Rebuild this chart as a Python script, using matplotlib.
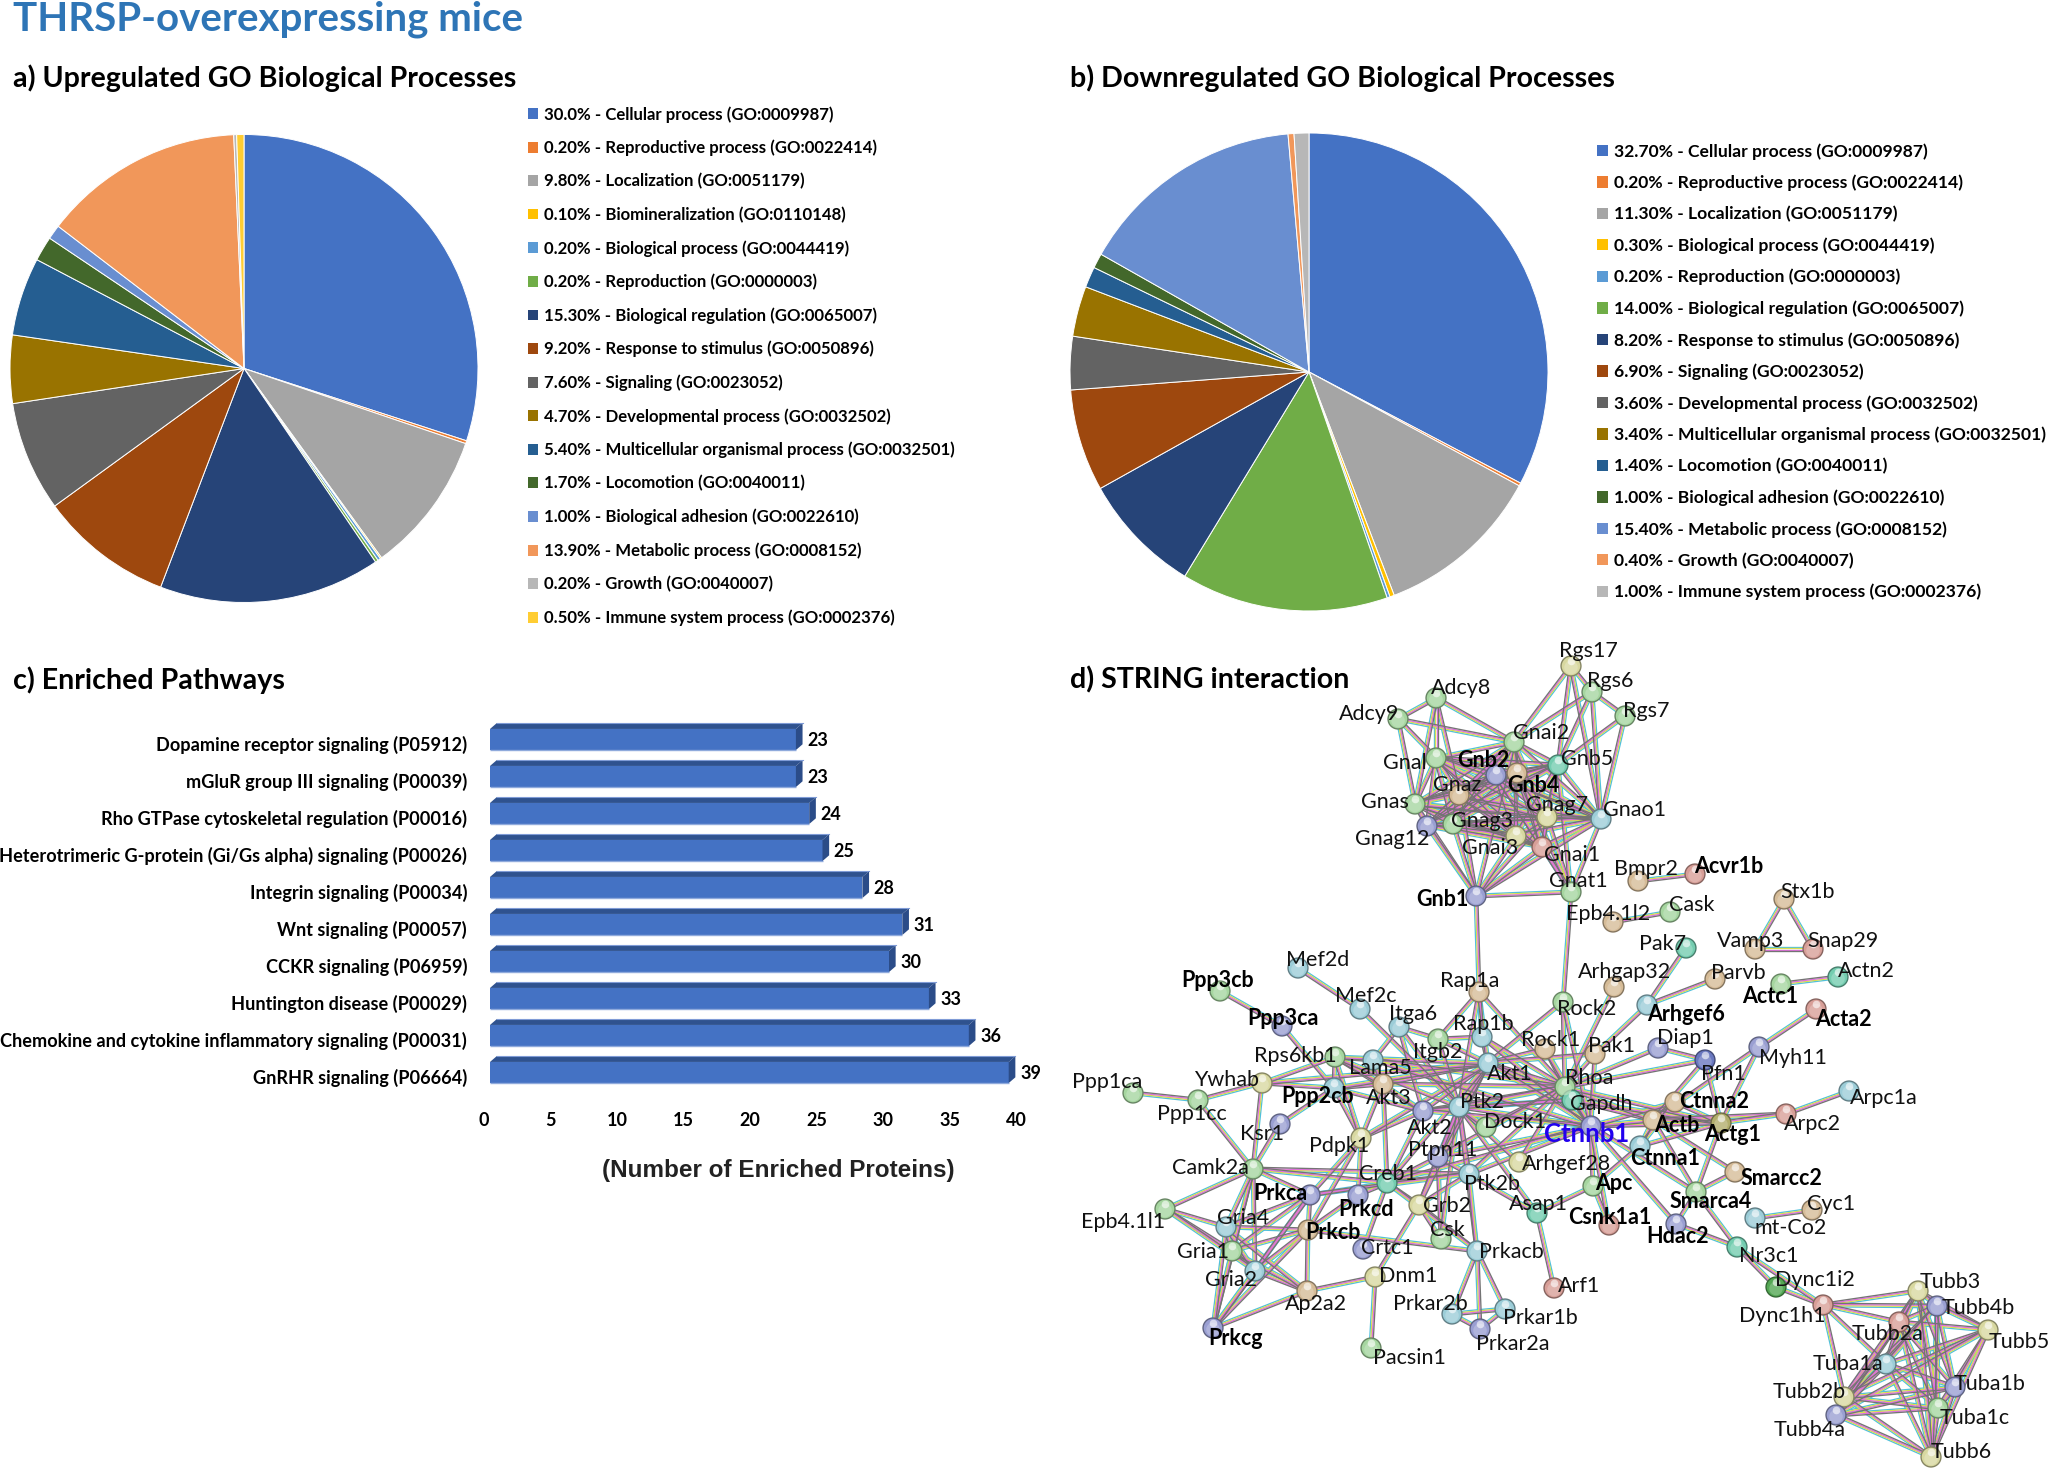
import itertools
import numpy as np
import matplotlib
matplotlib.use("Agg")
import matplotlib.pyplot as plt
from matplotlib.colors import to_rgb
from matplotlib.patches import Patch, Polygon
from matplotlib.collections import LineCollection
from matplotlib.transforms import ScaledTranslation

W, H = 2048, 1469
plt.rcParams['font.family'] = ['Lato', 'DejaVu Sans']

# a) upregulated GO terms
up_labels = ["30.0% - Cellular process (GO:0009987)", "0.20% - Reproductive process (GO:0022414)",
             "9.80% - Localization (GO:0051179)", "0.10% - Biomineralization (GO:0110148)",
             "0.20% - Biological process (GO:0044419)", "0.20% - Reproduction (GO:0000003)",
             "15.30% - Biological regulation (GO:0065007)", "9.20% - Response to stimulus (GO:0050896)",
             "7.60% - Signaling (GO:0023052)", "4.70% - Developmental process (GO:0032502)",
             "5.40% - Multicellular organismal process (GO:0032501)", "1.70% - Locomotion (GO:0040011)",
             "1.00% - Biological adhesion (GO:0022610)", "13.90% - Metabolic process (GO:0008152)",
             "0.20% - Growth (GO:0040007)", "0.50% - Immune system process (GO:0002376)"]
up_values = [30.0, 0.2, 9.8, 0.1, 0.2, 0.2, 15.3, 9.2, 7.6, 4.7, 5.4, 1.7, 1.0, 13.9, 0.2, 0.5]

# b) downregulated GO terms
down_labels = ["32.70% - Cellular process (GO:0009987)", "0.20% - Reproductive process (GO:0022414)",
               "11.30% - Localization (GO:0051179)", "0.30% - Biological process (GO:0044419)",
               "0.20% - Reproduction (GO:0000003)", "14.00% - Biological regulation (GO:0065007)",
               "8.20% - Response to stimulus (GO:0050896)", "6.90% - Signaling (GO:0023052)",
               "3.60% - Developmental process (GO:0032502)", "3.40% - Multicellular organismal process (GO:0032501)",
               "1.40% - Locomotion (GO:0040011)", "1.00% - Biological adhesion (GO:0022610)",
               "15.40% - Metabolic process (GO:0008152)", "0.40% - Growth (GO:0040007)",
               "1.00% - Immune system process (GO:0002376)"]
down_values = [32.7, 0.2, 11.3, 0.3, 0.2, 14.0, 8.2, 6.9, 3.6, 3.4, 1.4, 1.0, 15.4, 0.4, 1.0]

office_colors = ["#4472C4", "#ED7D31", "#A5A5A5", "#FFC000", "#5B9BD5", "#70AD47", "#264478", "#9E480E",
                 "#636363", "#997300", "#255E91", "#43682B", "#698ED0", "#F1975A", "#B7B7B7", "#FFCD33"]

# c) pathways
pathways = ["Dopamine receptor signaling (P05912)", "mGluR group III signaling (P00039)",
            "Rho GTPase cytoskeletal regulation (P00016)", "Heterotrimeric G-protein (Gi/Gs alpha) signaling (P00026)",
            "Integrin signaling (P00034)", "Wnt signaling (P00057)", "CCKR signaling (P06959)",
            "Huntington disease (P00029)", "Chemokine and cytokine inflammatory signaling (P00031)",
            "GnRHR signaling (P06664)"]
protein_counts = [23, 23, 24, 25, 28, 31, 30, 33, 36, 39]

# d) STRING network: gene -> node x, node y, label x, label y (in pixels)
gene_layout = {
    "Adcy8": (1436, 698, 1461, 686), "Adcy9": (1398, 719, 1369, 712), "Gnal": (1436, 758, 1405, 761),
    "Gnai2": (1514, 742, 1541, 731), "Gnb2": (1496, 775, 1483, 759), "Gnaz": (1459, 795, 1457, 783),
    "Gnas": (1415, 804, 1385, 800), "Gnag12": (1427, 826, 1392, 837), "Gnag3": (1453, 824, 1482, 819),
    "Gnai3": (1516, 836, 1490, 846), "Gnb1": (1476, 896, 1442, 898), "Gnb4": (1517, 773, 1533, 784),
    "Gnb5": (1558, 765, 1587, 757), "Gnag7": (1547, 817, 1557, 803), "Gnai1": (1542, 847, 1572, 853),
    "Gnao1": (1601, 819, 1635, 808), "Gnat1": (1571, 892, 1578, 879), "Rgs17": (1571, 666, 1588, 649),
    "Rgs6": (1592, 692, 1610, 679), "Rgs7": (1625, 716, 1646, 709), "Bmpr2": (1638, 881, 1646, 867),
    "Acvr1b": (1695, 874, 1729, 865), "Epb4.1l2": (1613, 922, 1608, 912), "Cask": (1670, 912, 1692, 903),
    "Stx1b": (1784, 899, 1808, 890), "Vamp3": (1755, 949, 1751, 939), "Snap29": (1813, 949, 1843, 939),
    "Pak7": (1686, 948, 1663, 942), "Parvb": (1715, 979, 1738, 971), "Arhgap32": (1614, 987, 1625, 970),
    "Actc1": (1781, 984, 1770, 995), "Actn2": (1838, 977, 1866, 969), "Arhgef6": (1647, 1005, 1686, 1013),
    "Rock2": (1563, 1002, 1587, 1007), "Acta2": (1816, 1009, 1843, 1018), "Rock1": (1545, 1049, 1551, 1039),
    "Pak1": (1595, 1054, 1611, 1045), "Diap1": (1658, 1048, 1685, 1037), "Pfn1": (1705, 1060, 1723, 1072),
    "Myh11": (1759, 1047, 1793, 1056), "Rhoa": (1565, 1087, 1589, 1076), "Gapdh": (1572, 1100, 1601, 1102),
    "Ctnna2": (1675, 1102, 1714, 1100), "Arpc1a": (1849, 1091, 1884, 1097), "Arpc2": (1786, 1114, 1812, 1123),
    "Actb": (1653, 1120, 1677, 1124), "Actg1": (1721, 1123, 1733, 1133), "Ctnnb1": (1591, 1126, 1587, 1133),
    "Ctnna1": (1640, 1146, 1665, 1157), "Arhgef28": (1519, 1162, 1567, 1162), "Apc": (1593, 1186, 1614, 1182),
    "Smarcc2": (1735, 1172, 1781, 1177), "Smarca4": (1696, 1192, 1711, 1200), "Cyc1": (1812, 1210, 1831, 1202),
    "mt-Co2": (1755, 1218, 1791, 1227), "Csnk1a1": (1609, 1225, 1610, 1216), "Asap1": (1537, 1213, 1538, 1203),
    "Hdac2": (1676, 1224, 1678, 1235), "Nr3c1": (1737, 1247, 1769, 1255), "Dync1i2": (1776, 1287, 1815, 1279),
    "Dync1h1": (1823, 1305, 1782, 1314), "Tubb3": (1918, 1291, 1950, 1281), "Tubb4b": (1937, 1306, 1978, 1307),
    "Tubb2a": (1899, 1322, 1888, 1332), "Tubb5": (1988, 1330, 2019, 1341), "Tuba1a": (1886, 1364, 1848, 1362),
    "Tuba1b": (1955, 1387, 1990, 1382), "Tubb2b": (1844, 1397, 1809, 1391), "Tuba1c": (1938, 1408, 1975, 1416),
    "Tubb4a": (1836, 1415, 1810, 1429), "Tubb6": (1931, 1457, 1961, 1451), "Arf1": (1554, 1288, 1579, 1284),
    "Prkar1b": (1505, 1309, 1540, 1317), "Prkca": (1310, 1195, 1280, 1192), "Prkcd": (1358, 1195, 1366, 1208),
    "Epb4.1l1": (1165, 1209, 1123, 1220), "Gria4": (1226, 1227, 1243, 1216), "Prkcb": (1308, 1230, 1333, 1231),
    "Grb2": (1419, 1205, 1447, 1204), "Csk": (1441, 1239, 1447, 1229), "Crtc1": (1363, 1249, 1387, 1247),
    "Gria1": (1232, 1251, 1203, 1251), "Prkacb": (1477, 1251, 1511, 1251), "Gria2": (1255, 1271, 1231, 1279),
    "Dnm1": (1375, 1277, 1408, 1275), "Ap2a2": (1307, 1291, 1316, 1303), "Prkar2b": (1452, 1314, 1430, 1302),
    "Prkar2a": (1480, 1329, 1513, 1343), "Prkcg": (1213, 1328, 1235, 1337), "Pacsin1": (1371, 1348, 1409, 1356),
    "Mef2d": (1298, 968, 1318, 958), "Ppp3cb": (1220, 991, 1218, 979), "Mef2c": (1360, 1009, 1366, 994),
    "Rap1a": (1479, 992, 1470, 979), "Ppp3ca": (1282, 1026, 1283, 1017), "Itga6": (1399, 1027, 1413, 1013),
    "Rap1b": (1482, 1037, 1483, 1023), "Itgb2": (1438, 1039, 1438, 1051), "Rps6kb1": (1335, 1057, 1295, 1054),
    "Lama5": (1373, 1060, 1380, 1066), "Akt1": (1488, 1063, 1510, 1072), "Ywhab": (1262, 1083, 1227, 1079),
    "Akt3": (1383, 1084, 1389, 1097), "Ppp2cb": (1334, 1088, 1318, 1095), "Ppp1ca": (1133, 1093, 1107, 1081),
    "Ppp1cc": (1198, 1100, 1192, 1112), "Ptk2": (1459, 1107, 1482, 1100), "Akt2": (1423, 1111, 1430, 1126),
    "Dock1": (1486, 1127, 1515, 1120), "Ksr1": (1280, 1124, 1262, 1133), "Pdpk1": (1361, 1138, 1339, 1145),
    "Ptpn11": (1438, 1157, 1443, 1148), "Camk2a": (1253, 1169, 1210, 1167), "Ptk2b": (1469, 1174, 1492, 1183),
    "Creb1": (1387, 1183, 1388, 1173),
}

bold_genes = ("Gnb2 Gnb4 Gnb1 Acvr1b Arhgef6 Actc1 Acta2 Ctnna2 Actb Actg1 Ctnnb1 Ctnna1 Apc Smarcc2 Smarca4 "
              "Csnk1a1 Hdac2 Prkca Prkcd Prkcb Prkcg Ppp3cb Ppp3ca Ppp2cb").split()

gene_colors = {
    "#A6D6A0": "Adcy8 Adcy9 Gnal Gnai2 Gnas Gnag3 Itgb2 Rps6kb1 Gnat1 Rgs6 Rgs7 Ppp1ca Cask Gria1 Camk2a Tuba1c Actc1 Rhoa Smarca4 Epb4.1l1 Pacsin1 Csk Dock1 Rock2 Ppp1cc Ppp3cb",
    "#9A9FD2": "Gnb2 Gnag12 Gnb1 Ppp3ca Akt2 Prkca Prkcd Prkcg Ksr1 Crtc1 Hdac2 Diap1 Ptpn11 Tubb4a Tubb4b Myh11 Ctnnb1 Tuba1b Prkar2a",
    "#D6BC98": "Gnaz Gnb4 Bmpr2 Epb4.1l2 Stx1b Vamp3 Parvb Arhgap32 Rock1 Pak1 Actb Ctnna2 Cyc1 Akt3 Prkcb Ap2a2 Smarcc2 Rap1a",
    "#D8D8A0": "Gnai3 Gnag7 Ywhab Pdpk1 Grb2 Arhgef28 Dnm1 Tubb5 Tubb3 Tubb2b Tubb6 Rgs17",
    "#D89F98": "Gnai1 Acvr1b Snap29 Acta2 Arpc2 Csnk1a1 Arf1 Tubb2a Dync1h1",
    "#9CCDD8": "Mef2c Rap1b Itga6 Akt1 Arhgef6 Ptk2 Ptk2b Ctnna1 Arpc1a Gria4 Prkar1b Tuba1a Gria2 Prkacb Mef2d Lama5 mt-Co2 Prkar2b Ppp2cb Gnao1",
    "#74CDB0": "Gnb5 Pak7 Actn2 Gapdh Creb1 Asap1 Nr3c1",
    "#54A854": "Dync1i2",
    "#6A78C0": "Pfn1",
    "#B2AE6C": "Actg1",
}

# edges as seen in the picture
g_protein_core = "Gnal Gnb2 Gnaz Gnas Gnag12 Gnag3 Gnai3 Gnb4 Gnb5 Gnag7 Gnai1 Gnao1 Gnai2".split()
tubulin_core = "Tubb3 Tubb4b Tubb2a Tubb5 Tuba1a Tuba1b Tubb2b Tuba1c Tubb4a Tubb6".split()
gria_prk_core = "Prkca Prkcb Prkcg Gria1 Gria2 Gria4".split()
prkar_core = "Prkacb Prkar2b Prkar2a Prkar1b".split()
gene_links = {
    "Adcy8": "Adcy9 Gnal Gnas Gnai2 Gnaz",
    "Adcy9": "Gnal Gnas Gnai2",
    "Gnb1": "Gnag12 Gnag3 Gnai3 Gnai1 Gnag7 Gnat1 Gnas Gnaz Gnai2 Gnao1 Rap1a",
    "Gnat1": "Gnai1 Gnao1 Gnag7 Gnb4 Gnb2 Gnb5 Rock2",
    "Rgs17": "Rgs6 Gnai2 Gnb5 Gnao1",
    "Rgs6": "Rgs7 Gnb5 Gnai2 Gnao1",
    "Rgs7": "Gnb5 Gnao1",
    "Epb4.1l2": "Cask",
    "Stx1b": "Vamp3 Snap29",
    "Vamp3": "Snap29",
    "Bmpr2": "Acvr1b",
    "Arhgef6": "Pak7 Parvb Pak1",
    "Actc1": "Actn2",
    "Acta2": "Myh11",
    "Arhgap32": "Rhoa",
    "Diap1": "Pfn1 Rhoa",
    "Pfn1": "Rhoa Actb Actg1",
    "Myh11": "Actg1 Actb",
    "Arpc1a": "Arpc2",
    "Arpc2": "Actg1 Actb",
    "Ctnna2": "Ctnnb1 Actb Actg1 Ctnna1",
    "Actb": "Actg1 Ctnna1 Ctnnb1 Gapdh Rhoa Smarca4 Smarcc2",
    "Actg1": "Ctnnb1 Ctnna1 Gapdh Rhoa Smarca4",
    "Smarcc2": "Smarca4",
    "Smarca4": "Hdac2 Nr3c1 Ctnnb1",
    "Hdac2": "Nr3c1 Ctnnb1",
    "Nr3c1": "Dync1h1 Dync1i2",
    "Dync1i2": "Dync1h1",
    "Dync1h1": "Tubb3 Tubb4b Tubb2a Tuba1a Tubb2b",
    "Cyc1": "mt-Co2",
    "Apc": "Ctnnb1 Csnk1a1 Asap1 Ctnna1",
    "Csnk1a1": "Ctnnb1",
    "Asap1": "Arf1 Ptk2b Ptk2",
    "Arhgef28": "Rhoa Ptk2",
    "Rhoa": "Rock1 Rock2 Pak1 Akt1 Ptk2 Akt2 Akt3 Gapdh Dock1 Ptk2b Rap1b Ptpn11 Ctnnb1 Lama5",
    "Akt1": "Rps6kb1 Akt3 Akt2 Pdpk1 Gapdh Ctnnb1 Ptk2 Rap1b Ywhab Ppp2cb Creb1 Rock1 Rock2 Pak1 Grb2 Ptpn11",
    "Ctnnb1": "Gapdh Akt2 Ptk2 Rap1b Ptpn11 Creb1 Ptk2b Lama5 Rock1 Pak1 Rock2",
    "Mef2d": "Mef2c",
    "Mef2c": "Ptk2",
    "Ppp3cb": "Ppp3ca",
    "Ppp3ca": "Ppp2cb",
    "Ppp1ca": "Ppp1cc",
    "Ppp1cc": "Ywhab Camk2a",
    "Ywhab": "Rps6kb1 Ppp2cb Camk2a",
    "Ksr1": "Camk2a Ppp2cb",
    "Camk2a": "Creb1 Epb4.1l1 Gria1 Gria2 Gria4 Prkca Prkcg Ptk2b",
    "Rps6kb1": "Akt3 Akt2 Ppp2cb Pdpk1 Ptk2 Lama5",
    "Lama5": "Itga6 Akt3",
    "Itga6": "Itgb2 Ptk2 Akt2",
    "Itgb2": "Rap1a Rap1b Ptk2 Akt1",
    "Rap1a": "Rap1b Ptk2 Akt1 Rhoa",
    "Akt3": "Akt2 Pdpk1 Ppp2cb Creb1",
    "Akt2": "Pdpk1 Ptk2 Creb1 Gapdh",
    "Ppp2cb": "Pdpk1 Akt2",
    "Pdpk1": "Prkca Prkcd Prkcb",
    "Ptk2": "Ptk2b Ptpn11 Grb2 Csk Dock1 Prkacb Gapdh",
    "Ptpn11": "Grb2 Csk Ptk2b Creb1",
    "Ptk2b": "Grb2 Prkacb Prkca Creb1",
    "Grb2": "Csk Prkacb Dnm1 Creb1",
    "Creb1": "Prkacb Prkca Prkcd Crtc1",
    "Prkcb": "Ap2a2 Prkcd Prkacb",
    "Prkcg": "Ap2a2",
    "Epb4.1l1": "Gria1 Gria4 Gria2",
    "Ap2a2": "Gria1 Gria2 Gria4 Dnm1",
    "Dnm1": "Pacsin1",
}

fig = plt.figure(figsize=(W / 100, H / 100), dpi=100, facecolor="white")


def px_axes(x0, y0, x1, y1):
    return fig.add_axes([x0 / W, 1 - y1 / H, (x1 - x0) / W, (y1 - y0) / H])


def go_pie(values, cx, cy, r, labels, lx, ly, fontsize, spacing):
    ax = px_axes(cx - r, cy - r, cx + r, cy + r)
    ax.pie(values, colors=office_colors[:len(values)], startangle=90, counterclock=False,
           radius=1, wedgeprops={"edgecolor": "white", "linewidth": 0.7})
    ax.set_xlim(-1, 1)
    ax.set_ylim(-1, 1)
    handles = [Patch(facecolor=c) for c in office_colors[:len(values)]]
    fig.legend(handles, labels, loc="upper left", bbox_to_anchor=(lx / W, 1 - ly / H), frameon=False,
               prop={"size": fontsize, "weight": "bold"}, borderpad=0, borderaxespad=0,
               labelspacing=spacing, handlelength=0.62, handleheight=0.62, handletextpad=0.35)


go_pie(up_values, 244, 368.5, 234, up_labels, 528, 106, 12.05, 1.02)
go_pie(down_values, 1309, 372, 239, down_labels, 1597, 143, 12.6, 0.856)

# bar chart, hand made 3D look
ax = px_axes(490, 700, 1022, 1100)
ax.set_xlim(0, 40)
ax.set_ylim((1100 - 739.5) / 37, (700 - 739.5) / 37)
ypos = np.arange(len(pathways))
bar_h = 0.57
dx, dy = 0.5, 0.155
ax.barh(ypos, protein_counts, height=bar_h, color="#4472C4", edgecolor="none")
ax.hlines(ypos + bar_h / 2, 0, protein_counts, color="#8FAADC", lw=1.0)
for y, v in zip(ypos, protein_counts):
    top = y - bar_h / 2
    bottom = y + bar_h / 2
    ax.add_patch(Polygon([(0, top), (dx, top - dy), (v + dx, top - dy), (v, top)], fc="#2F528F", ec="none"))
    ax.plot([dx, v + dx], [top - dy, top - dy], color="#7F9BD6", lw=0.8)
    ax.add_patch(Polygon([(v, top), (v + dx, top - dy), (v + dx, bottom - dy), (v, bottom)], fc="#2B4C88", ec="none"))
    ax.text(v + dx + 0.35, y + 0.03, str(v), ha="left", va="center", fontsize=13, fontweight="bold")
ax.set_yticks(ypos, pathways, fontsize=13.05, fontweight="bold")
ax.set_xticks(np.arange(0, 41, 5))
ax.tick_params(length=0)
ax.tick_params(axis="y", pad=16.5)
ax.tick_params(axis="x", labelsize=13, pad=8.5)
for lab in ax.get_xticklabels():
    lab.set_fontweight("bold")
    lab.set_transform(lab.get_transform() + ScaledTranslation(-6 / 100, 0, fig.dpi_scale_trans))
for lab in ax.get_yticklabels():
    lab.set_transform(lab.get_transform() + ScaledTranslation(0, -4 / 100, fig.dpi_scale_trans))
for s in ax.spines.values():
    s.set_visible(False)
ax.patch.set_alpha(0)

# overlay in pixel coordinates: headings and the network
canvas = fig.add_axes([0, 0, 1, 1])
canvas.set_xlim(0, W)
canvas.set_ylim(H, 0)
canvas.axis("off")
canvas.patch.set_alpha(0)

canvas.text(13, 19, "THRSP-overexpressing mice", fontsize=29, fontweight="bold", color="#2E75B6", va="center")
for x, y, t in [(13, 78, "a) Upregulated GO Biological Processes"), (1070, 78, "b) Downregulated GO Biological Processes"),
                (13, 680, "c) Enriched Pathways"), (1070, 680, "d) STRING interaction")]:
    canvas.text(x, y, t, fontsize=20.6, fontweight="bold", va="center")
canvas.text(778, 1170, "(Number of Enriched Proteins)", fontsize=17.5, fontweight="bold", ha="center", va="center",
            family="Liberation Sans", color="#222222")

edges = set()
for group in (g_protein_core, tubulin_core, gria_prk_core, prkar_core):
    edges.update(frozenset(p) for p in itertools.combinations(group, 2))
for a, others in gene_links.items():
    edges.update(frozenset((a, b)) for b in others.split())

# cyan and yellow first, pink and grey on top, as they read in the picture
strand_colors = ["#50C0DC", "#D8DE50", "#E070DC", "#747474"]
strand_offsets = [1.8, 0.6, -0.6, -1.8]
segments = [[] for _ in strand_colors]
for edge in sorted(tuple(sorted(e)) for e in edges):
    x0, y0 = gene_layout[edge[0]][:2]
    x1, y1 = gene_layout[edge[1]][:2]
    length = np.hypot(x1 - x0, y1 - y0)
    nx, ny = -(y1 - y0) / length, (x1 - x0) / length
    for k, off in enumerate(strand_offsets):
        segments[k].append([(x0 + nx * off, y0 + ny * off), (x1 + nx * off, y1 + ny * off)])
for seg, col in zip(segments, strand_colors):
    canvas.add_collection(LineCollection(seg, colors=col, linewidths=0.95, zorder=2))

node_color = {g: c for c, genes in gene_colors.items() for g in genes.split()}
names = list(gene_layout)
node_x = np.array([gene_layout[g][0] for g in names])
node_y = np.array([gene_layout[g][1] for g in names])
base = np.array([to_rgb(node_color.get(g, "#A6D6A0")) for g in names])
canvas.scatter(node_x, node_y, s=205, c=base, edgecolors=base * 0.62, linewidths=1.0, zorder=3)
canvas.scatter(node_x, node_y + 1.5, s=95, c=base + (1 - base) * 0.3, linewidths=0, alpha=0.7, zorder=4)
canvas.scatter(node_x, node_y - 5, s=30, c="white", alpha=0.6, linewidths=0, zorder=4)

for g in names:
    lx, ly = gene_layout[g][2:]
    ly = ly + 1.5
    if g == "Ctnnb1":
        canvas.text(lx, ly, g, fontsize=18.5, fontweight="bold", color="#2200EE", ha="center", va="center", zorder=5)
    elif g in bold_genes:
        canvas.text(lx, ly, g, fontsize=15.5, fontweight="bold", ha="center", va="center", zorder=5)
    else:
        canvas.text(lx, ly, g, fontsize=15.5, ha="center", va="center", color="#111111", zorder=5)

fig.savefig("out.png", dpi=100)
